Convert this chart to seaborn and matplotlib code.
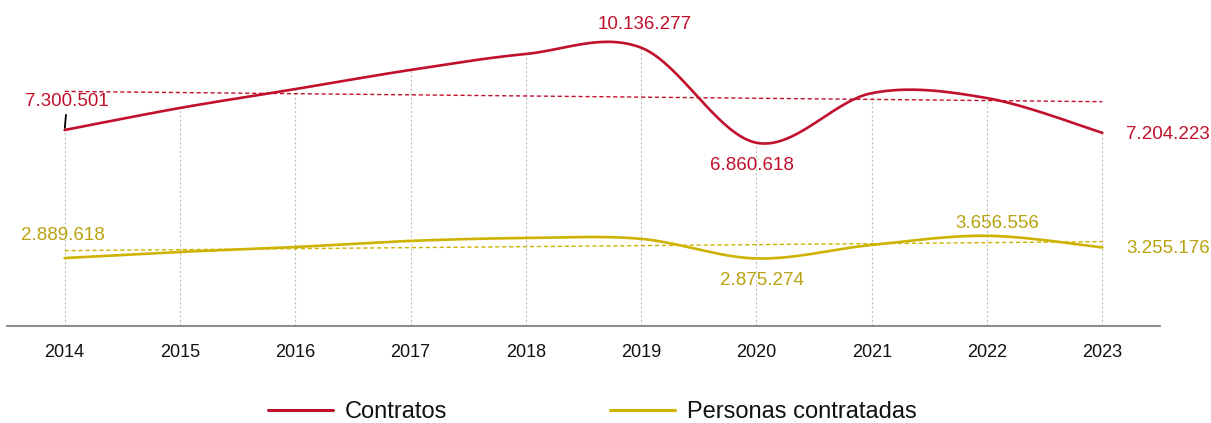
import numpy as np
import pandas as pd
import matplotlib
matplotlib.use('Agg')
import matplotlib.pyplot as plt
import seaborn as sns

sns.set_theme(style='white')
plt.rcParams['font.family'] = ['Liberation Sans', 'DejaVu Sans']

# data (millions)
years = [2014, 2015, 2016, 2017, 2018, 2019, 2020, 2021, 2022, 2023]
contratos = [7.300501, 8.06, 8.71, 9.37, 9.92, 10.136277, 6.860618, 8.57, 8.40, 7.204223]
personas = [2.889618, 3.10, 3.27, 3.48, 3.58, 3.55, 2.875274, 3.34, 3.656556, 3.255176]

# labelled points: (index, text, offset px)
red_labels = [(0, '7.300.501', (2.5, 29)), (5, '10.136.277', (4, 23)),
              (6, '6.860.618', (-5, -23)), (9, '7.204.223', (24, -2))]
yel_labels = [(0, '2.889.618', (-2, 22.5)), (6, '2.875.274', (5, -22.5)),
              (8, '3.656.556', (10, 12)), (9, '3.255.176', (24, -0.6))]

RED = '#C0102C'
YEL = '#CDB300'
YEL_TXT = '#B9A20F'


def smooth(xs, ys, n=40):
    # smoothed line like the spreadsheet chart (Catmull-Rom as cubic Bezier)
    x = np.asarray(xs, float)
    y = np.asarray(ys, float)
    px = np.concatenate([[x[0]], x, [x[-1]]])
    py = np.concatenate([[y[0]], y, [y[-1]]])
    t = np.linspace(0, 1, n)
    ox, oy = [], []
    for i in range(len(x) - 1):
        p1 = np.array([px[i + 1], py[i + 1]])
        p2 = np.array([px[i + 2], py[i + 2]])
        c1 = p1 + (np.array([px[i + 2], py[i + 2]]) - np.array([px[i], py[i]])) / 6
        c2 = p2 - (np.array([px[i + 3], py[i + 3]]) - np.array([px[i + 1], py[i + 1]])) / 6
        b = ((1 - t) ** 3)[:, None] * p1 + (3 * (1 - t) ** 2 * t)[:, None] * c1 \
            + (3 * (1 - t) * t ** 2)[:, None] * c2 + (t ** 3)[:, None] * p2
        ox.extend(b[:, 0])
        oy.extend(b[:, 1])
    return np.array(ox), np.array(oy)


fig = plt.figure(figsize=(12.11, 4.23), dpi=100)
ax = fig.add_axes([7 / 1211, 0.2293, 1153 / 1211, 0.7234])
ylo, yhi = 0.548, 11.09

# drop lines from contratos to the axis
ax.vlines(years, ylo, contratos, colors='#BFBFBF', linestyles=(0, (2, 2)), lw=0.8, zorder=1)

# trend lines
for vals, col in [(contratos, RED), (personas, YEL)]:
    k, b = np.polyfit(years, vals, 1)
    yy = np.array([years[0], years[-1]])
    ax.plot(yy, k * yy + b, color=col, lw=1.0, ls=(0, (3, 2)), zorder=2)

sx, sy = smooth(years, contratos)
sns.lineplot(x=sx, y=sy, sort=False, estimator=None, color=RED, lw=1.9, ax=ax, label='Contratos', zorder=3)
sx, sy = smooth(years, personas)
sns.lineplot(x=sx, y=sy, sort=False, estimator=None, color=YEL, lw=1.9, ax=ax, label='Personas contratadas', zorder=3)

for i, txt, off in red_labels:
    ha = 'left' if i == len(years) - 1 else 'center'
    if i == 0:
        ax.annotate(txt, xy=(years[i], contratos[i]), xytext=off, textcoords='offset pixels',
                    ha=ha, va='center', fontsize=13.5, color=RED,
                    arrowprops=dict(arrowstyle='-', color='black', lw=1.3, shrinkA=1.5, shrinkB=1.5))
    else:
        ax.annotate(txt, xy=(years[i], contratos[i]), xytext=off, textcoords='offset pixels',
                    ha=ha, va='center', fontsize=13.5, color=RED)
for i, txt, off in yel_labels:
    ha = 'left' if i == len(years) - 1 else 'center'
    ax.annotate(txt, xy=(years[i], personas[i]), xytext=off, textcoords='offset pixels',
                ha=ha, va='center', fontsize=13.5, color=YEL_TXT)

ax.set_xlim(2013.5, 2023.5)
ax.set_ylim(ylo, yhi)
ax.set_xticks(years)
ax.set_xticklabels([str(y) for y in years])
ax.set_yticks([])
ax.tick_params(axis='x', length=0, pad=13, labelsize=13, colors='#111111')
for s in ['top', 'left', 'right']:
    ax.spines[s].set_visible(False)
ax.spines['bottom'].set_color('#808080')
ax.spines['bottom'].set_linewidth(1.3)
ax.set_xlabel('')
ax.set_ylabel('')
ax.grid(False)

h, l = ax.get_legend_handles_labels()
ax.get_legend().remove()
leg = fig.legend(h, l, loc='center', bbox_to_anchor=(0.489, 1 - 412 / 423), ncol=2, frameon=False,
                 fontsize=17, handlelength=2.75, handletextpad=0.5, columnspacing=6.9,
                 labelcolor='#111111')
for ln in leg.get_lines():
    ln.set_linewidth(2.2)

fig.savefig('out.png', dpi=100)
